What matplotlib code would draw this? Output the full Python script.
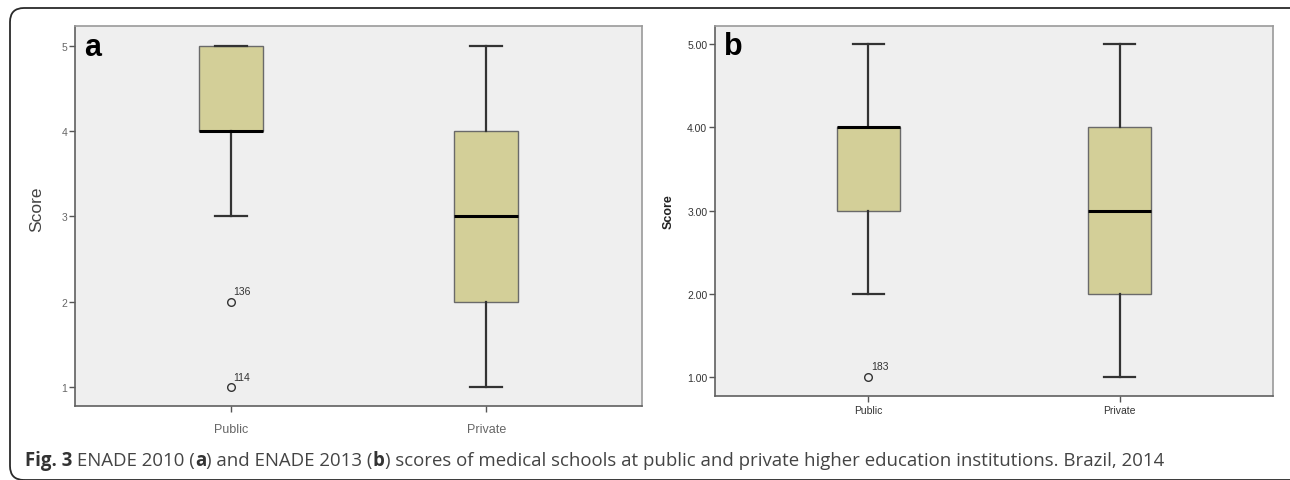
import matplotlib
matplotlib.use("Agg")
import matplotlib.pyplot as plt
from matplotlib.patches import FancyBboxPatch

# ENADE scores, box summaries
groups = ["Public", "Private"]

# panel a - ENADE 2010
a_q1 = [4, 2]
a_med = [4, 3]
a_q3 = [5, 4]
a_lo = [3, 1]
a_hi = [5, 5]
a_fliers = [[2, 1], []]
a_flier_ids = [["136", "114"], []]

# panel b - ENADE 2013
b_q1 = [3, 2]
b_med = [4, 3]
b_q3 = [4, 4]
b_lo = [2, 1]
b_hi = [5, 5]
b_fliers = [[1], []]
b_flier_ids = [["183"], []]

a_yticks = [1, 2, 3, 4, 5]
b_yticks = [1, 2, 3, 4, 5]

BOX = "#d3cf98"
BG = "#efefef"
W, H = 1290, 481

plt.rcParams["font.family"] = ["Liberation Sans", "DejaVu Sans"]
fig = plt.figure(figsize=(W / 100, H / 100), dpi=100)

# rounded frame round the whole figure
frame = FancyBboxPatch((0.10, 0.0), 13.2, 4.72, boxstyle="round,pad=0,rounding_size=0.14",
                       transform=fig.dpi_scale_trans, fill=False, ec="#2a2a2a", lw=1.3)
fig.patches.append(frame)


def panel(rect, q1, med, q3, lo, hi, fliers, ids, ylim, letter, yticks, fmt, tick_col, xfs, xpad):
    ax = fig.add_axes(rect)
    ax.set_facecolor(BG)
    stats = [dict(med=m, q1=a, q3=b, whislo=l, whishi=h, fliers=f, label=g)
             for m, a, b, l, h, f, g in zip(med, q1, q3, lo, hi, fliers, groups)]
    ax.bxp(stats, positions=[1, 2], widths=0.25, capwidths=0.125, patch_artist=True,
           boxprops=dict(facecolor=BOX, edgecolor="#6a6a6a", lw=1.0),
           medianprops=dict(color="black", lw=2.2),
           whiskerprops=dict(color="#333333", lw=1.6),
           capprops=dict(color="#333333", lw=1.6),
           flierprops=dict(marker="o", mfc="none", mec="#333333", ms=5.5, mew=1.0))
    for pos, vals, labs in zip([1, 2], fliers, ids):
        for v, s in zip(vals, labs):
            ax.annotate(s, (pos, v), xytext=(2, 7.5), textcoords="offset points",
                        fontsize=7.5, color="#333333", va="center")
    ax.set_xlim(0.39, 2.61)
    ax.set_ylim(*ylim)
    ax.set_yticks(yticks)
    ax.set_yticklabels([fmt.format(t) for t in yticks])
    ax.set_xticks([1, 2])
    ax.set_xticklabels(groups)
    ax.tick_params(axis="y", direction="out", length=4.5, width=1, pad=1,
                   labelsize=7.5, colors="#555555", labelcolor=tick_col)
    ax.tick_params(axis="x", direction="out", length=4.5, width=1, pad=xpad,
                   labelsize=xfs, colors="#555555", labelcolor=tick_col)
    for side in ["left", "bottom"]:
        ax.spines[side].set_color("#606060")
        ax.spines[side].set_linewidth(1.2)
    for side in ["top", "right"]:
        ax.spines[side].set_color("#9a9a9a")
        ax.spines[side].set_linewidth(1.2)
    ax.text(0.016, 0.925, letter, transform=ax.transAxes, fontsize=22,
            fontweight="bold", color="black", va="baseline")
    return ax


panel([75 / W, 1 - 407 / H, 567 / W, 380 / H], a_q1, a_med, a_q3, a_lo, a_hi,
      a_fliers, a_flier_ids, (0.78, 5.23), "a", a_yticks, "{:d}", "#666666", 9, 8)
panel([715 / W, 1 - 397 / H, 558 / W, 370 / H], b_q1, b_med, b_q3, b_lo, b_hi,
      b_fliers, b_flier_ids, (0.77, 5.22), "b", b_yticks, "{:.2f}", "#333333", 7.5, 2)

fig.text(37 / W, 1 - 209 / H, "Score", rotation=90, ha="center", va="center",
         fontsize=12.5, color="#444444")
fig.text(669 / W, 1 - 212 / H, "Score", rotation=90, ha="center", va="center",
         fontsize=9, fontweight="bold", color="#222222")

# caption with mixed bold / regular runs
renderer = fig.canvas.get_renderer()
runs = [("Fig. 3", "bold", "#333333"), (" ENADE 2010 (", "normal", "#444444"),
        ("a", "bold", "#333333"), (") and ENADE 2013 (", "normal", "#444444"),
        ("b", "bold", "#333333"),
        (") scores of medical schools at public and private higher education institutions. Brazil, 2014",
         "normal", "#444444")]
x = 25 / W
for s, wt, col in runs:
    t = fig.text(x, 1 - 466 / H, s, fontsize=13.4, fontweight=wt, color=col,
                 family=["Open Sans", "DejaVu Sans"], va="baseline")
    x = t.get_window_extent(renderer).x1 / W

fig.savefig("out.png", dpi=100)
